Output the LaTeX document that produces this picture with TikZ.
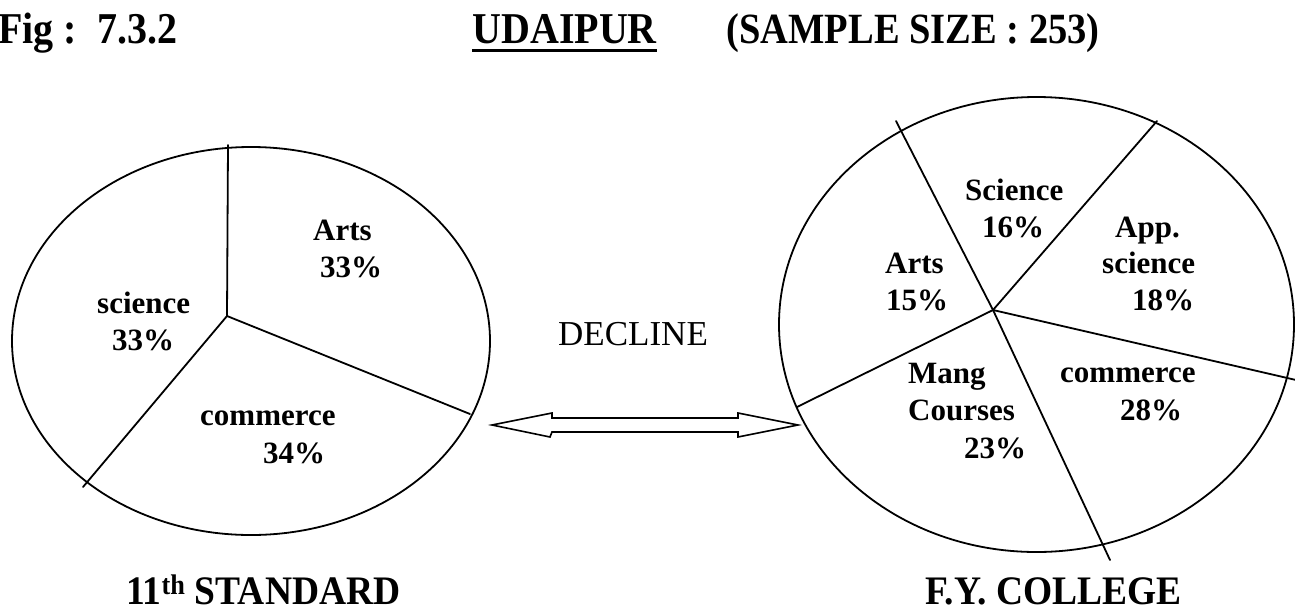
\documentclass[tikz,border=0pt]{standalone}
\usepackage{fontspec}
\setmainfont{Liberation Serif}
\begin{document}
\begin{tikzpicture}[x=1pt,y=-1pt,
  pieline/.style={line width=1.8pt,line cap=round},
  slicetxt/.style={anchor=base west,inner sep=0pt,font=\fontsize{31}{36}\selectfont\bfseries},
  headtxt/.style={inner sep=0pt,font=\fontsize{40}{46}\selectfont\bfseries},
  foottxt/.style={anchor=base west,inner sep=0pt,font=\fontsize{37.5}{42}\selectfont\bfseries},
  arrowbody/.style={line width=1.6pt,line join=miter}]
\useasboundingbox (0,0) rectangle (1295,611);

% ---- heading ----
\node[headtxt,anchor=base west] (fig) at (-2,43) {\scalebox{1}[1.1]{Fig :\ \ 7.3.2}};
\node[headtxt,anchor=base east] (city) at (657,43) {\scalebox{1}[1.1]{UDAIPUR}};
\node[headtxt,anchor=base east,font=\fontsize{38.5}{44}\selectfont\bfseries] (sample) at (1100,43) {\scalebox{1}[1.12]{(SAMPLE SIZE : 253)}};
\draw[line width=3pt] ([yshift=-7pt]city.base west) -- ([yshift=-7pt]city.base east);

% ---- 11th standard pie ----
\coordinate (ctrA) at (251,341);
\coordinate (hubA) at (227,316);
\draw[pieline] (ctrA) ellipse [x radius=239pt, y radius=194pt];
\coordinate (a1) at (228,145);
\coordinate (a2) at (470,414);
\coordinate (a3) at (83,487);
\draw[pieline] (hubA) -- (a1);
\draw[pieline] (hubA) -- (a2);
\draw[pieline] (hubA) -- (a3);

\node[slicetxt] (aArts) at (313,240) {Arts};
\node[slicetxt] (aArtsP) at (320,277) {33\%};
\node[slicetxt] (aSci) at (97,313) {science};
\node[slicetxt] (aSciP) at (112,350) {33\%};
\node[slicetxt] (aCom) at (200,425) {commerce};
\node[slicetxt] (aComP) at (263,463) {34\%};

% ---- F.Y. college pie ----
\coordinate (ctrB) at (1036.5,324.5);
\coordinate (hubB) at (993,310);
\draw[pieline] (ctrB) ellipse [x radius=257.5pt, y radius=227.5pt];
\coordinate (b1) at (896,121);
\coordinate (b2) at (1157,121);
\coordinate (b3) at (1296,380);
\coordinate (b4) at (1110,560);
\coordinate (b5) at (797,407);
\foreach \e in {b1,b2,b3,b4,b5} \draw[pieline] (hubB) -- (\e);

\node[slicetxt] (bSci) at (965,200) {Science};
\node[slicetxt] (bSciP) at (982,237) {16\%};
\node[slicetxt] (bArts) at (885,273) {Arts};
\node[slicetxt] (bArtsP) at (886,310) {15\%};
\node[slicetxt] (bApp) at (1115,237) {App.};
\node[slicetxt] (bAppS) at (1102,273) {science};
\node[slicetxt] (bAppP) at (1132,310) {18\%};
\node[slicetxt] (bMang) at (908,383) {Mang};
\node[slicetxt] (bCour) at (908,420) {Courses};
\node[slicetxt] (bMangP) at (964,458) {23\%};
\node[slicetxt] (bCom) at (1060,382) {commerce};
\node[slicetxt] (bComP) at (1120,420) {28\%};

% ---- hollow double arrow between the pies ----
\node[anchor=base west,inner sep=0pt,font=\fontsize{35}{40}\selectfont] (decline) at (558,345) {DECLINE};
\coordinate (tipL) at (492,425);
\coordinate (tipR) at (798,425);
\draw[arrowbody] (tipL) -- (552,413) -- (552,418) -- (738,418) -- (738,413)
  -- (tipR) -- (738,437) -- (738,432) -- (552,432) -- (550,437) -- cycle;

% ---- captions ----
\node[foottxt] (std) at (126,604) {\scalebox{1}[1.08]{11\textsuperscript{th} STANDARD}};
\node[foottxt] (fyc) at (925,604) {\scalebox{1}[1.08]{F.Y. COLLEGE}};
\end{tikzpicture}
\end{document}
